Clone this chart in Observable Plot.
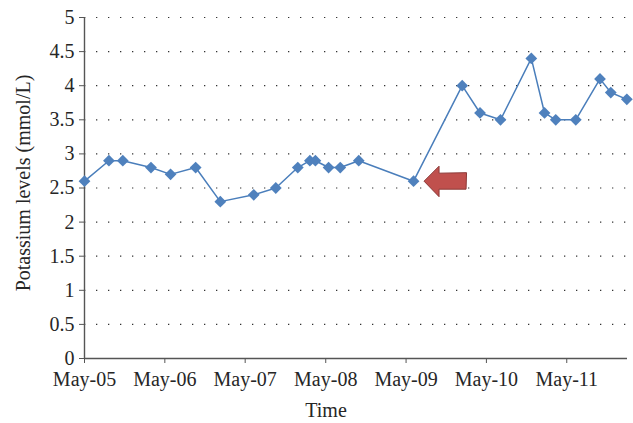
<!DOCTYPE html>
<html>
<head>
<meta charset="utf-8">
<script src="https://cdn.jsdelivr.net/npm/d3@7"></script>
<script src="https://cdn.jsdelivr.net/npm/@observablehq/plot@0.6"></script>
<style>
  html, body { margin: 0; padding: 0; background: #fff; }
</style>
</head>
<body>
<div id="chart"></div>
<script>
const dates = [
  "2005-05-01", "2005-08-20", "2005-10-22", "2006-02-27", "2006-05-27",
  "2006-09-18", "2007-01-08", "2007-06-09", "2007-09-17", "2007-12-26",
  "2008-02-19", "2008-03-15", "2008-05-14", "2008-07-06", "2008-09-28",
  "2009-06-04", "2010-01-11", "2010-04-02", "2010-07-04", "2010-11-21",
  "2011-01-20", "2011-03-12", "2011-06-11", "2011-09-29", "2011-11-17",
  "2012-01-29"
];
// Potassium levels (mmol/L)
const potassium = [
  2.6, 2.9, 2.9, 2.8, 2.7,
  2.8, 2.3, 2.4, 2.5, 2.8,
  2.9, 2.9, 2.8, 2.8, 2.9,
  2.6, 4.0, 3.6, 3.5, 4.4,
  3.6, 3.5, 3.5, 4.1, 3.9,
  3.8
];
// Axis ticks
const xTickDates = ["2005-05-01", "2006-05-01", "2007-05-01", "2008-05-01", "2009-05-01", "2010-05-01", "2011-05-01"];
const xTickLabels = ["May-05", "May-06", "May-07", "May-08", "May-09", "May-10", "May-11"];
const yTicks = [0, 0.5, 1, 1.5, 2, 2.5, 3, 3.5, 4, 4.5, 5];
const xDomainDates = ["2005-05-01", "2012-02-01"];
const yDomain = [0, 5];
// Annotation: arrow points at this measurement
const markedIndex = 15;
const xTitle = "Time";
const yTitle = "Potassium levels (mmol/L)";

const data = dates.map((d, i) => ({date: new Date(d), k: potassium[i]}));
const xTicks = xTickDates.map(d => new Date(d));
const labelByTime = new Map(xTicks.map((d, i) => [+d, xTickLabels[i]]));
const xDomain = xDomainDates.map(d => new Date(d));

// Block arrow symbol pointing left (tip at the left)
const arrowSymbol = {
  draw(ctx) {
    ctx.moveTo(-21.5, 0);
    ctx.lineTo(-6.5, -15);
    ctx.lineTo(-6.5, -8);
    ctx.lineTo(21, -8.5);
    ctx.lineTo(20.5, 8);
    ctx.lineTo(-6.5, 8);
    ctx.lineTo(-6.5, 15.5);
    ctx.closePath();
  }
};

const textColor = "#262626";
const axisColor = "#555";
const font = "'Liberation Serif', 'Times New Roman', serif";

const chart = Plot.plot({
  width: 633,
  height: 423,
  marginLeft: 84,
  marginRight: 6,
  marginTop: 17,
  marginBottom: 65,
  style: {fontFamily: font, fontSize: "20px", color: textColor, background: "#fff"},
  x: {type: "utc", domain: xDomain},
  y: {domain: yDomain},
  marks: [
    Plot.gridY(yTicks.filter(v => v > 0), {stroke: "#333", strokeOpacity: 1, strokeWidth: 1.2, strokeDasharray: "1.3 10.7"}),
    Plot.axisY(yTicks, {tickSize: 5, tickPadding: 5, label: null, stroke: axisColor, tickFormat: d => String(d), fill: textColor, fontSize: 20}),
    Plot.axisX(xTicks, {tickSize: 5, tickPadding: 8, label: null, stroke: axisColor, tickFormat: d => labelByTime.get(+d), fill: textColor, fontSize: 20}),
    Plot.ruleY([0], {stroke: axisColor, strokeWidth: 1.4}),
    Plot.ruleX([xDomain[0]], {stroke: axisColor, strokeWidth: 1.4}),
    Plot.line(data, {x: "date", y: "k", stroke: "#4A7EBB", strokeWidth: 1.5}),
    Plot.dot(data, {x: "date", y: "k", symbol: "square", rotate: 45, r: 4.7, fill: "#4F81BD", stroke: "none"}),
    Plot.dot([data[markedIndex]], {x: "date", y: "k", symbol: arrowSymbol, fill: "#C0504D", stroke: "#8C3A38", strokeWidth: 1, dx: 32}),
    Plot.text([yTitle], {frameAnchor: "left", rotate: -90, textAnchor: "middle", lineAnchor: "middle", dx: -61, dy: -5, fill: textColor, fontSize: 20}),
    Plot.text([xTitle], {frameAnchor: "bottom", textAnchor: "middle", lineAnchor: "middle", dx: -30, dy: 52, fill: textColor, fontSize: 20})
  ]
});
document.getElementById("chart").appendChild(chart);
</script>
</body>
</html>
